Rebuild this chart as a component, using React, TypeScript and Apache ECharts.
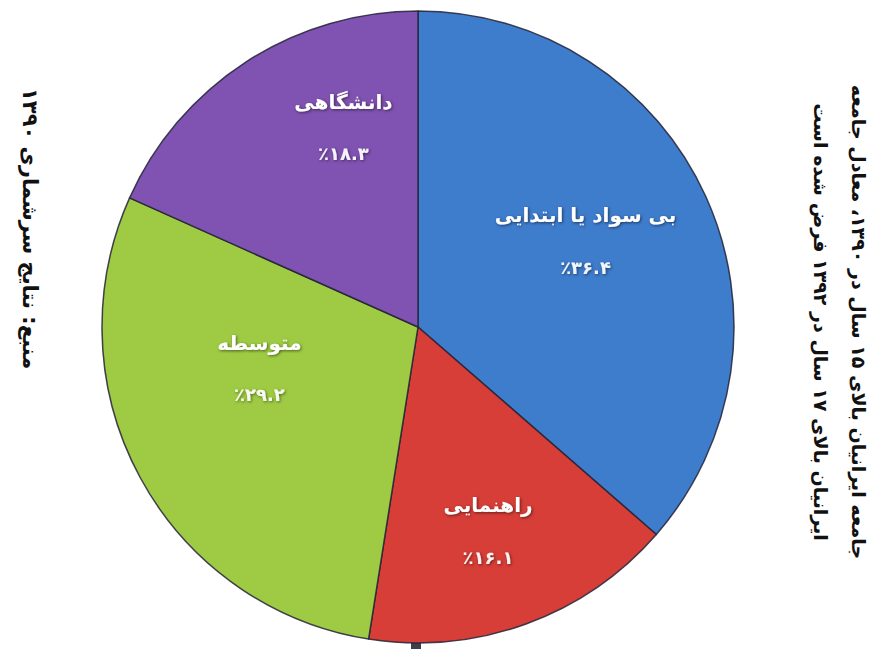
import React, { useEffect, useRef } from "react";
import * as echarts from "echarts";

// ---- data ----
const categories: string[] = ["بی سواد یا ابتدایی", "راهنمایی", "متوسطه", "دانشگاهی"];
const values: number[] = [36.4, 16.1, 29.2, 18.3];
const sourceNote = "منبع: نتایج سرشماری ۱۳۹۰";
const noteLines: string[] = [
  "جامعه ایرانیان بالای ۱۵ سال در ۱۳۹۰، معادل جامعه",
  "ایرانیان بالای ۱۷ سال در ۱۳۹۲ فرض شده است",
];

// ---- styles ----
const sliceColors = ["#3E7CCC", "#D63E37", "#9ECB43", "#8052B2"];
const labelOffsets: [number, number][] = [
  [21, -19],
  [15, 53],
  [-17, -35],
  [13, -64],
];
const FONT = "'DejaVu Sans', 'Noto Sans', sans-serif";

const toPersianDigits = (s: string) =>
  s.replace(/[0-9]/g, (d) => "۰۱۲۳۴۵۶۷۸۹"[Number(d)]);

export default function App() {
  const ref = useRef<HTMLDivElement>(null);

  useEffect(() => {
    if (!ref.current) return;
    const chart = echarts.init(ref.current, undefined, { renderer: "svg" });
    const textShadow = {
      textShadowColor: "rgba(0,0,0,0.55)",
      textShadowBlur: 3,
      textShadowOffsetX: 1,
      textShadowOffsetY: 1,
    };
    chart.setOption({
      animation: false,
      backgroundColor: "#ffffff",
      series: [
        {
          type: "pie",
          center: [418, 327],
          radius: 316,
          startAngle: 90,
          clockwise: true,
          avoidLabelOverlap: false,
          emphasis: { disabled: true },
          itemStyle: { borderColor: "rgba(35,35,55,0.85)", borderWidth: 1.5 },
          labelLine: { show: false },
          label: {
            show: true,
            position: "inside",
            formatter: (p: any) =>
              `{n|${p.name}}\n{p|٪${toPersianDigits(String(p.value))}}`,
            rich: {
              n: {
                fontFamily: FONT,
                fontSize: 20,
                fontWeight: "bold",
                color: "#ffffff",
                lineHeight: 52,
                align: "center",
                ...textShadow,
              },
              p: {
                fontFamily: FONT,
                fontSize: 18,
                fontWeight: "bold",
                color: "rgba(255,255,255,0.92)",
                lineHeight: 52,
                align: "center",
                ...textShadow,
              },
            },
          },
          data: categories.map((name, i) => ({
            name,
            value: values[i],
            itemStyle: { color: sliceColors[i] },
            label: { offset: labelOffsets[i] },
          })),
        },
      ],
      graphic: [
        {
          type: "text",
          x: 30,
          y: 88,
          rotation: -Math.PI / 2,
          style: {
            text: sourceNote,
            fontFamily: FONT,
            fontSize: 21,
            fontWeight: "bold",
            fill: "#111111",
            align: "left",
            verticalAlign: "middle",
          },
        },
        ...noteLines.map((t, i) => ({
          type: "text",
          x: 859 - i * 38,
          y: 322,
          rotation: -Math.PI / 2,
          style: {
            text: t,
            fontFamily: FONT,
            fontSize: 19,
            fontWeight: "bold",
            fill: "#111111",
            align: "center",
            verticalAlign: "middle",
          },
        })),
        {
          type: "rect",
          shape: { x: 411, y: 643, width: 10, height: 6 },
          style: { fill: "#3a3f4a" },
        },
      ],
    });
    return () => chart.dispose();
  }, []);

  return (
    <div
      ref={ref}
      style={{ position: "fixed", left: 0, top: 0, width: 881, height: 649 }}
    />
  );
}
